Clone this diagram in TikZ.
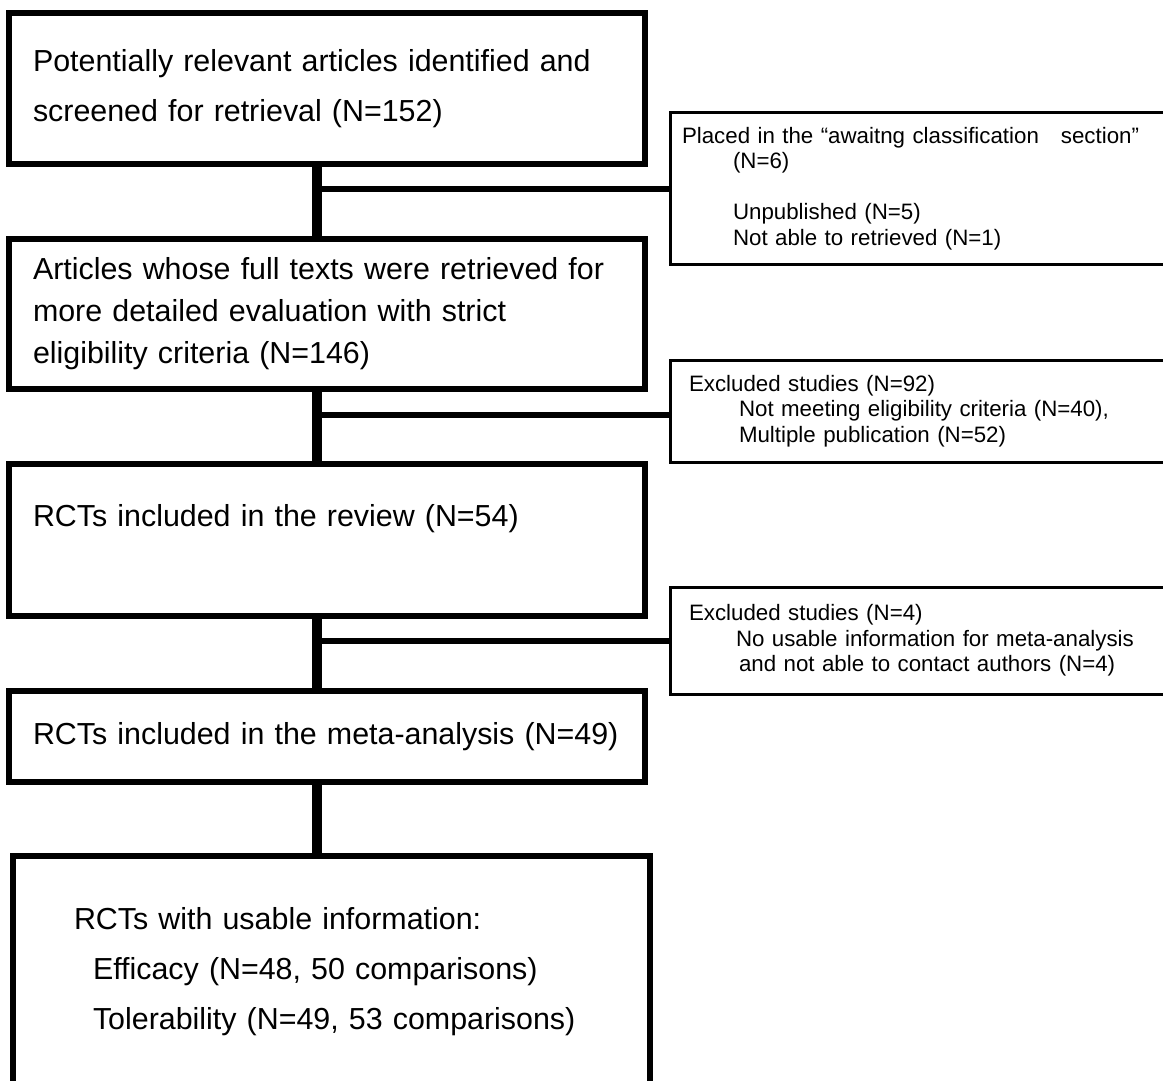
\documentclass[tikz,border=0pt]{standalone}
\usepackage{fontspec}
\setmainfont{Liberation Sans}
\begin{document}
\begin{tikzpicture}[x=1pt,y=-1pt,
    mainbox/.style={draw,line width=5.5pt,rectangle,align=left,inner xsep=24pt,inner ysep=0pt,text width=588pt,font=\fontsize{30.4}{50}\selectfont},
    sidebox/.style={draw,line width=3pt,rectangle,align=left,inner xsep=12pt,inner ysep=0pt,text width=486pt,font=\fontsize{22.3}{25.5}\selectfont},
    spine/.style={line width=10pt},
    branch/.style={line width=6pt}]
    \useasboundingbox (0,0) rectangle (1163,1081);
    \clip (0,0) rectangle (1163,1081);
    \coordinate (sp) at (317,0);
    \node[mainbox,minimum height=151pt] (found) at (327,88.5) {Potentially relevant articles identified and\\screened for retrieval (N=152)};
    \node[mainbox,minimum height=150pt,font=\fontsize{30.4}{42}\selectfont] (full) at (327,314) {Articles whose full texts were retrieved for\\more detailed evaluation with strict\\eligibility criteria (N=146)};
    \node[mainbox,minimum height=152pt] (review) at (327,540) {RCTs included in the review (N=54)\\\mbox{}};
    \node[mainbox,minimum height=91pt] (meta) at (327,736.5) {RCTs included in the meta-analysis (N=49)};
    \node[mainbox,minimum height=240pt,text width=589pt] (usable) at (331.5,976) {\hspace*{37pt}RCTs with usable information:\\\hspace*{56pt}Efficacy (N=48, 50 comparisons)\\\hspace*{56pt}Tolerability (N=49, 53 comparisons)\\[-34pt]\mbox{}};
    \node[sidebox,minimum height=151pt] (await) at (925,188.5) {Placed in the “awaitng classification\hspace{22pt}section”\\\hspace*{51pt}(N=6)\\[25.5pt]\hspace*{51pt}Unpublished (N=5)\\\hspace*{51pt}Not able to retrieved (N=1)};
    \node[sidebox,minimum height=102pt] (excl1) at (925,411) {\hspace*{7pt}Excluded studies (N=92)\\\hspace*{57pt}Not meeting eligibility criteria (N=40),\\\hspace*{57pt}Multiple publication (N=52)};
    \node[sidebox,minimum height=107pt] (excl2) at (925,640.5) {\hspace*{7pt}Excluded studies (N=4)\\\hspace*{54pt}No usable information for meta-analysis\\\hspace*{57pt}and not able to contact authors (N=4)};
    \draw[spine] (found.south -| sp) -- (full.north -| sp);
    \draw[spine] (full.south -| sp) -- (review.north -| sp);
    \draw[spine] (review.south -| sp) -- (meta.north -| sp);
    \draw[spine] (meta.south -| sp) -- (usable.north -| sp);
    \draw[branch] (await.west -| sp) -- (await.west);
    \draw[branch] ([yshift=-4pt]excl1.west -| sp) -- ([yshift=-4pt]excl1.west);
    \draw[branch] (excl2.west -| sp) -- (excl2.west);
\end{tikzpicture}
\end{document}
